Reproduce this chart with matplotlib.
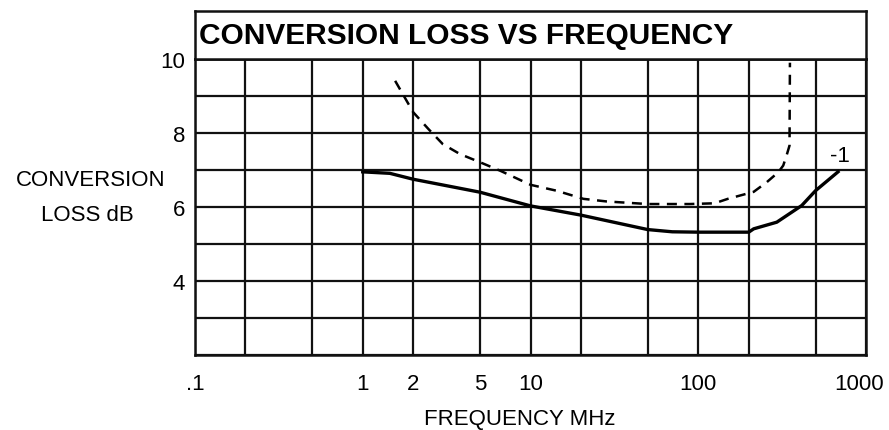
import matplotlib
matplotlib.use("Agg")
import matplotlib.pyplot as plt
from matplotlib.transforms import ScaledTranslation

plt.rcParams["font.family"] = ["Liberation Sans", "DejaVu Sans"]

# grid / tick values
grid_freqs = [0.1, 0.2, 0.5, 1, 2, 5, 10, 20, 50, 100, 200, 500, 1000]
freq_labels = [".1", "", "", "1", "2", "5", "10", "", "", "100", "", "", "1000"]
grid_loss = [2, 3, 4, 5, 6, 7, 8, 9, 10]
loss_labels = ["", "", "4", "", "6", "", "8", "", "10"]

# solid curve
solid_freq = [1, 1.45, 2, 5, 10, 20, 50, 70, 100, 200, 214, 294, 414, 500, 681]
solid_loss = [6.95, 6.91, 6.75, 6.4, 6.03, 5.78, 5.39, 5.33, 5.32, 5.32, 5.41,
              5.59, 6.04, 6.44, 6.95]

# dashed curve
dashed_freq = [1.56, 2.0, 2.46, 3.0, 3.8, 5, 6.6, 10, 14.3, 20.7, 28.4, 50, 89,
               125, 150, 214, 256, 300, 321, 336, 350, 352]
dashed_loss = [9.41, 8.56, 8.11, 7.70, 7.43, 7.21, 6.98, 6.6, 6.44, 6.22, 6.15,
               6.08, 6.08, 6.1, 6.22, 6.41, 6.67, 6.94, 7.12, 7.39, 7.66, 9.9]

W, H = 889, 431
fig = plt.figure(figsize=(W / 100, H / 100), dpi=100)

L, R, T, B = 195, 866, 60, 356
ax = fig.add_axes([L / W, 1 - B / H, (R - L) / W, (B - T) / H])
ax.set_xscale("log")
ax.set_xlim(0.1, 1000)
ax.set_ylim(2, 10)
ax.set_xticks(grid_freqs)
ax.set_xticklabels(freq_labels)
ax.xaxis.set_minor_locator(matplotlib.ticker.NullLocator())
ax.set_yticks(grid_loss)
ax.set_yticklabels(loss_labels)
ax.tick_params(axis="x", length=0, pad=13, labelsize=16)
ax.tick_params(axis="y", length=0, pad=7, labelsize=16)
ax.grid(True, color="#111111", lw=1.6)
for s in ax.spines.values():
    s.set_linewidth(1.8)
    s.set_color("#111111")

# "1000" sits a bit left of the right border, as in the original
last = ax.get_xticklabels()[-1]
last.set_transform(last.get_transform() + ScaledTranslation(-7 / 100, 0, fig.dpi_scale_trans))

ax.plot(solid_freq, solid_loss, color="black", lw=2.4)
ax.plot(dashed_freq, dashed_loss, color="black", lw=1.8, linestyle=(0, (4, 3)))
ax.text(700, 7.4, "-1", fontsize=16, ha="center", va="center")

# title box
tb = fig.add_axes([L / W, 1 - T / H, (R - L) / W, 48 / H])
tb.set_xticks([])
tb.set_yticks([])
for s in tb.spines.values():
    s.set_linewidth(1.8)
    s.set_color("#111111")
tb.text(0.006, 0.5, "CONVERSION LOSS VS FREQUENCY", fontsize=21.5,
        fontweight="bold", ha="left", va="center", transform=tb.transAxes)

fig.text(520 / W, 1 - 420 / H, "FREQUENCY MHz", fontsize=16, ha="center", va="center")
fig.text(91 / W, 1 - 180 / H, "CONVERSION", fontsize=16, ha="center", va="center")
fig.text(87 / W, 1 - 216 / H, "LOSS dB", fontsize=16, ha="center", va="center")

fig.savefig("out.png", dpi=100)
